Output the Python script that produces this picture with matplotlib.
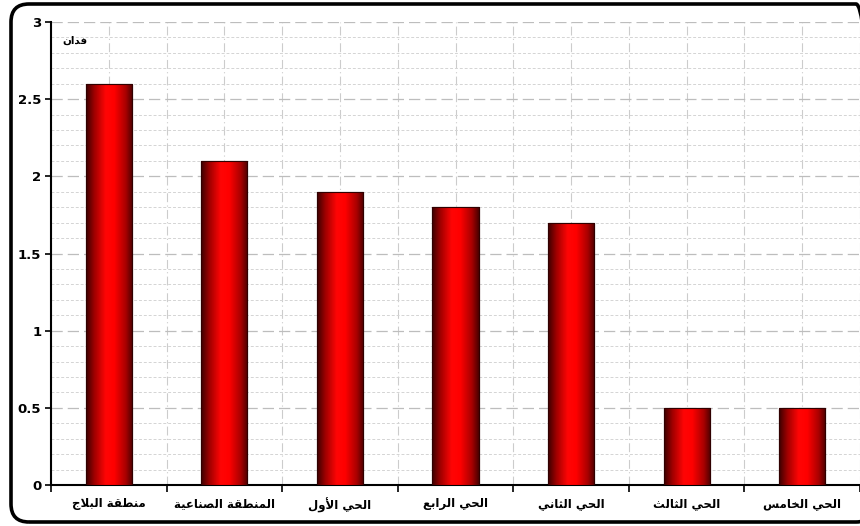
import numpy as np
import matplotlib
matplotlib.use('Agg')
import matplotlib.pyplot as plt
from matplotlib.colors import LinearSegmentedColormap
from matplotlib.patches import FancyBboxPatch
from matplotlib.ticker import MultipleLocator, FixedLocator, FuncFormatter, NullFormatter

categories = ['منطقة البلاج', 'المنطقة الصناعية', 'الحي الأول', 'الحي الرابع',
              'الحي الثاني', 'الحي الثالث', 'الحي الخامس']
values = [2.6, 2.1, 1.9, 1.8, 1.7, 0.5, 0.5]
unit_label = 'فدان'

# minimal arabic shaping: (isolated, final, initial, medial)
FORMS = {
    'ا': (0xFE8D, 0xFE8E, None, None), 'أ': (0xFE83, 0xFE84, None, None),
    'ب': (0xFE8F, 0xFE90, 0xFE91, 0xFE92), 'ة': (0xFE93, 0xFE94, None, None),
    'ث': (0xFE99, 0xFE9A, 0xFE9B, 0xFE9C), 'ج': (0xFE9D, 0xFE9E, 0xFE9F, 0xFEA0),
    'ح': (0xFEA1, 0xFEA2, 0xFEA3, 0xFEA4), 'خ': (0xFEA5, 0xFEA6, 0xFEA7, 0xFEA8),
    'د': (0xFEA9, 0xFEAA, None, None), 'ر': (0xFEAD, 0xFEAE, None, None),
    'س': (0xFEB1, 0xFEB2, 0xFEB3, 0xFEB4), 'ص': (0xFEB9, 0xFEBA, 0xFEBB, 0xFEBC),
    'ط': (0xFEC1, 0xFEC2, 0xFEC3, 0xFEC4), 'ع': (0xFEC9, 0xFECA, 0xFECB, 0xFECC),
    'ف': (0xFED1, 0xFED2, 0xFED3, 0xFED4), 'ق': (0xFED5, 0xFED6, 0xFED7, 0xFED8),
    'ل': (0xFEDD, 0xFEDE, 0xFEDF, 0xFEE0), 'م': (0xFEE1, 0xFEE2, 0xFEE3, 0xFEE4),
    'ن': (0xFEE5, 0xFEE6, 0xFEE7, 0xFEE8), 'و': (0xFEED, 0xFEEE, None, None),
    'ي': (0xFEF1, 0xFEF2, 0xFEF3, 0xFEF4),
    'LA': (0xFEFB, 0xFEFC, None, None), 'LAH': (0xFEF7, 0xFEF8, None, None),
}


def shape(text):
    chars = []
    i = 0
    while i < len(text):
        c = text[i]
        nxt = text[i + 1] if i + 1 < len(text) else ''
        if c == 'ل' and nxt == 'ا':
            chars.append('LA'); i += 2; continue
        if c == 'ل' and nxt == 'أ':
            chars.append('LAH'); i += 2; continue
        chars.append(c); i += 1
    out = []
    for k, c in enumerate(chars):
        if c not in FORMS:
            out.append(c); continue
        prev = chars[k - 1] if k > 0 else None
        nxt = chars[k + 1] if k + 1 < len(chars) else None
        jp = prev in FORMS and FORMS[prev][2] is not None
        jn = FORMS[c][2] is not None and nxt in FORMS
        f = FORMS[c]
        if jp and jn:
            code = f[3]
        elif jp:
            code = f[1]
        elif jn:
            code = f[2]
        else:
            code = f[0]
        out.append(chr(code))
    return ''.join(out)[::-1]


plt.rcParams['font.family'] = ['DejaVu Sans']

fig = plt.figure(figsize=(8.6, 5.26), dpi=100)
ax = fig.add_axes([51 / 860, 1 - 485 / 526, 1 - 51 / 860, (485 - 22) / 526])

x = np.arange(len(categories))
bars = ax.bar(x, values, width=0.4, color='#dd0000', edgecolor='#300000',
              linewidth=0.8, zorder=3)

cmap = LinearSegmentedColormap.from_list('redbar', [
    (0.0, '#3a0000'), (0.18, '#a00000'), (0.42, '#ff0505'),
    (0.6, '#ff0000'), (0.85, '#a80000'), (1.0, '#4a0000')])
grad = np.linspace(0, 1, 256).reshape(1, -1)
for b in bars:
    im = ax.imshow(grad, cmap=cmap, aspect='auto', zorder=3.5,
                   extent=(b.get_x(), b.get_x() + b.get_width(), 0, b.get_height()))
    im.set_clip_path(b)
    ax.bar(b.get_x() + b.get_width() / 2, b.get_height(), width=b.get_width(),
           fill=False, edgecolor='#300000', linewidth=0.8, zorder=4)

ax.set_xlim(-0.5, len(categories) - 0.5)
ax.set_ylim(0, 3)

ax.xaxis.set_major_locator(FixedLocator(np.arange(-0.5, len(categories), 1)))
ax.xaxis.set_major_formatter(NullFormatter())
ax.xaxis.set_minor_locator(FixedLocator(x))
ax.set_xticklabels([shape(c) for c in categories], minor=True,
                   fontsize=8.5, fontweight='bold')
ax.tick_params(axis='x', which='major', length=5, width=1.2, direction='out')
ax.tick_params(axis='x', which='minor', length=0, pad=9)

ax.yaxis.set_major_locator(MultipleLocator(0.5))
ax.yaxis.set_minor_locator(MultipleLocator(0.1))
ax.yaxis.set_major_formatter(FuncFormatter(lambda v, p: f'{v:g}'))
ax.tick_params(axis='y', which='major', length=4, width=1.2, labelsize=9.5, pad=3)
ax.tick_params(axis='y', which='minor', length=0)
for t in ax.get_yticklabels():
    t.set_fontweight('bold')

ax.set_axisbelow(True)
ax.grid(axis='y', which='major', color='#bdbdbd', linestyle=(0, (9, 4)), linewidth=0.9)
ax.grid(axis='y', which='minor', color='#d4d4d4', linestyle=(0, (3, 2)), linewidth=0.7)
ax.grid(axis='x', which='both', color='#cccccc', linestyle=(0, (8, 3, 1, 3)), linewidth=0.8)

for s in ['top', 'right']:
    ax.spines[s].set_visible(False)
ax.spines['left'].set_linewidth(1.5)
ax.spines['bottom'].set_linewidth(1.5)

ax.text(-0.29, 2.88, shape(unit_label), ha='center', va='center',
        fontsize=7.5, fontweight='bold')

frame = FancyBboxPatch((0.11, 0.04), 8.63, 5.18,
                       boxstyle='round,pad=0,rounding_size=0.18',
                       transform=fig.dpi_scale_trans, fill=False,
                       edgecolor='black', linewidth=2.6)
fig.patches.append(frame)

fig.savefig('out.png', dpi=100)
